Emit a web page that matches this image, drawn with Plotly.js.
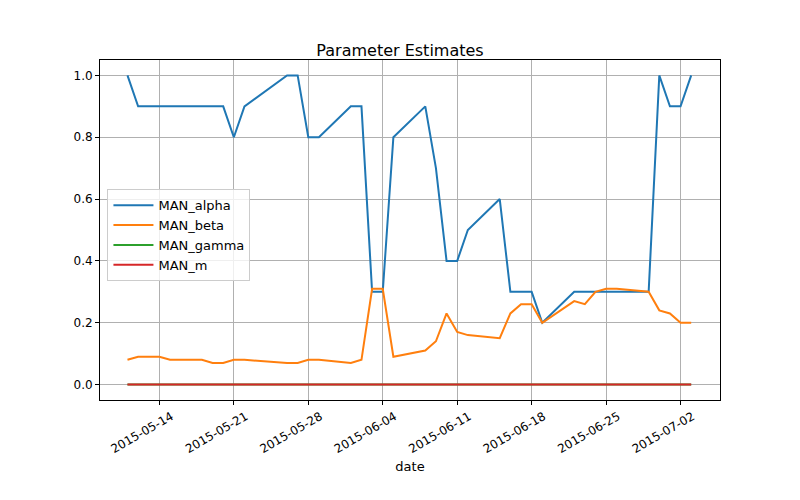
<!DOCTYPE html>
<html>
<head>
<meta charset="utf-8">
<script src="https://cdn.plot.ly/plotly-3.0.1.min.js"></script>
<style>body{margin:0}#chart{width:800px;height:500px}</style>
</head>
<body>
<div id="chart"></div>
<script>
// business days with estimates
const dates = [
  '2015-05-11','2015-05-12','2015-05-13','2015-05-14','2015-05-15',
  '2015-05-18','2015-05-19','2015-05-20','2015-05-21','2015-05-22',
  '2015-05-26','2015-05-27','2015-05-28','2015-05-29',
  '2015-06-01','2015-06-02','2015-06-03','2015-06-04','2015-06-05',
  '2015-06-08','2015-06-09','2015-06-10','2015-06-11','2015-06-12',
  '2015-06-15','2015-06-16','2015-06-17','2015-06-18','2015-06-19',
  '2015-06-22','2015-06-23','2015-06-24','2015-06-25','2015-06-26',
  '2015-06-29','2015-06-30','2015-07-01','2015-07-02','2015-07-03'
];
const alpha = [
  1.0,0.9,0.9,0.9,0.9,
  0.9,0.9,0.9,0.8,0.9,
  1.0,1.0,0.8,0.8,
  0.9,0.9,0.3,0.3,0.8,
  0.9,0.7,0.4,0.4,0.5,
  0.6,0.3,0.3,0.3,0.2,
  0.3,0.3,0.3,0.3,0.3,
  0.3,1.0,0.9,0.9,1.0
];
const beta = [
  0.08,0.09,0.09,0.09,0.08,
  0.08,0.07,0.07,0.08,0.08,
  0.07,0.07,0.08,0.08,
  0.07,0.08,0.31,0.31,0.09,
  0.11,0.14,0.23,0.17,0.16,
  0.15,0.23,0.26,0.26,0.20,
  0.27,0.26,0.30,0.31,0.31,
  0.30,0.24,0.23,0.20,0.20
];
const gamma = dates.map(() => 0);
const m = dates.map(() => 0);
const tickDates = ['2015-05-14','2015-05-21','2015-05-28','2015-06-04','2015-06-11','2015-06-18','2015-06-25','2015-07-02'];

const line = (name, y, color) => ({
  x: dates, y: y, name: name, type: 'scatter', mode: 'lines',
  line: {color: color, width: 2}
});

const data = [
  line('MAN_alpha', alpha, '#1f77b4'),
  line('MAN_beta', beta, '#ff7f0e'),
  line('MAN_gamma', gamma, '#2ca02c'),
  line('MAN_m', m, '#d62728')
];

const layout = {
  width: 800, height: 500,
  font: {family: 'DejaVu Sans', size: 12, color: '#000'},
  paper_bgcolor: '#fff', plot_bgcolor: '#fff',
  margin: {l: 100, r: 80, t: 60, b: 100},
  title: {text: 'Parameter Estimates', font: {size: 16}, x: 0.5, xanchor: 'center', y: 0.91},
  showlegend: true,
  legend: {x: 0.012, y: 0.62, xanchor: 'left', yanchor: 'top', bgcolor: 'rgba(255,255,255,0.8)',
    bordercolor: '#ccc', borderwidth: 1, font: {size: 13}, itemwidth: 40},
  xaxis: {
    type: 'date', range: ['2015-05-08 10:00', '2015-07-05 17:00'],
    tickvals: tickDates, ticktext: tickDates, tickangle: -30,
    ticklabelshift: 12,
    showgrid: true, gridcolor: '#b0b0b0', gridwidth: 1,
    showline: true, mirror: true, linecolor: '#000', linewidth: 1,
    ticks: 'outside', ticklen: 4, tickcolor: '#000', zeroline: false,
    title: {text: 'date', font: {size: 13}, standoff: 6}
  },
  yaxis: {
    range: [-0.05, 1.05], tickvals: [0, 0.2, 0.4, 0.6, 0.8, 1.0],
    ticktext: ['0.0', '0.2', '0.4', '0.6', '0.8', '1.0'],
    showgrid: true, gridcolor: '#b0b0b0', gridwidth: 1,
    showline: true, mirror: true, linecolor: '#000', linewidth: 1,
    ticks: 'outside', ticklen: 4, tickcolor: '#000', zeroline: false
  }
};

Plotly.newPlot('chart', data, layout, {displayModeBar: false, staticPlot: true});
</script>
</body>
</html>
